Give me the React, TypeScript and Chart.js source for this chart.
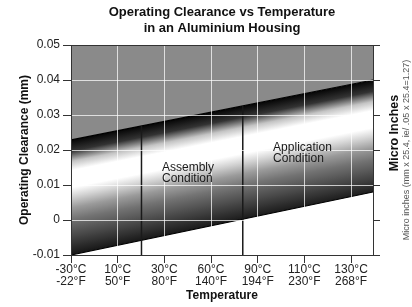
import React, { useEffect, useRef } from 'react';
import { Chart, registerables } from 'chart.js';

Chart.register(...registerables);

const FONT = "'Liberation Sans', Arial, Helvetica, sans-serif";

// ---- data ----
const titleLines = ['Operating Clearance vs Temperature', 'in an Aluminium Housing'];
const yTitle = 'Operating Clearance (mm)';
const xTitle = 'Temperature';
const rightTitle = 'Micro Inches';
const rightNote = 'Micro inches (mm x 25.4, ie/ .05 x 25.4=1.27)';

const xTickPositions = [0, 1, 2, 3, 4, 5, 6];
const tempC = ['-30°C', '10°C', '30°C', '60°C', '90°C', '110°C', '130°C'];
const tempF = ['-22°F', '50°F', '80°F', '140°F', '194°F', '230°F', '268°F'];
const xMax = 6.47;

const yTicks = [-0.01, 0, 0.01, 0.02, 0.03, 0.04, 0.05];
const yTickLabels = ['-0.01', '0', '0.01', '0.02', '0.03', '0.04', '0.05'];

const edgeX = [0, 6.47];
const upperEdge = [0.0229, 0.04];
const lowerEdge = [-0.01, 0.008];

const conditionX = [1.51, 3.68];
const conditionTop = [0.0269, 0.0326];
const conditionBottom = [-0.01, -0.01];

const conditionNames = [
  ['Assembly', 'Condition'],
  ['Application', 'Condition'],
];
const conditionLabelX = [1.95, 4.33];
const conditionLabelY = [0.0149, 0.0206];

// ---- styles ----
const bandStops = [0, 0.1, 0.19, 0.27, 0.42, 0.5, 0.6, 0.7, 0.84, 1];
const bandShades = ['#050505', '#333333', '#c4c4c4', '#ffffff', '#ffffff', '#d4d4d4', '#9a9a9a', '#737373', '#4a4a4a', '#1a1a1a'];
const GRAY_FILL = '#8a8a8a';
const GRID = 'rgba(255,255,255,0.72)';
const AXIS = '#333333';

function bandGradient(c: any) {
  const chart = c.chart;
  const { chartArea, scales } = chart;
  if (!chartArea || !scales || !scales.x || !scales.y) return '#777777';
  const xs = scales.x;
  const ys = scales.y;
  const p0x = xs.getPixelForValue(edgeX[0]);
  const p0y = ys.getPixelForValue(upperEdge[0]);
  const p1x = xs.getPixelForValue(edgeX[1]);
  const p1y = ys.getPixelForValue(upperEdge[1]);
  let dx = p1x - p0x;
  let dy = p1y - p0y;
  const len = Math.hypot(dx, dy) || 1;
  dx /= len;
  dy /= len;
  const nx = -dy;
  const ny = dx;
  const q0x = xs.getPixelForValue(edgeX[0]);
  const q0y = ys.getPixelForValue(lowerEdge[0]);
  const q1x = xs.getPixelForValue(edgeX[1]);
  const q1y = ys.getPixelForValue(lowerEdge[1]);
  const mx = (p0x + p1x) / 2;
  const my = (p0y + p1y) / 2;
  const lmx = (q0x + q1x) / 2;
  const lmy = (q0y + q1y) / 2;
  const dist = (lmx - mx) * nx + (lmy - my) * ny;
  const g = chart.ctx.createLinearGradient(mx, my, mx + nx * dist, my + ny * dist);
  bandStops.forEach((s, i) => g.addColorStop(s, bandShades[i]));
  return g;
}

const overlayText = {
  id: 'overlayText',
  afterDraw(chart: any) {
    const { ctx, scales, chartArea } = chart;
    const xs = scales.x;
    const ys = scales.y;
    ctx.save();
    ctx.font = `12px ${FONT}`;
    ctx.fillStyle = '#1a1a1a';
    ctx.textAlign = 'left';
    ctx.textBaseline = 'middle';
    conditionNames.forEach((lines, i) => {
      const px = xs.getPixelForValue(conditionLabelX[i]);
      const py = ys.getPixelForValue(conditionLabelY[i]);
      lines.forEach((l, j) => ctx.fillText(l, px, py + j * 11));
    });
    ctx.restore();

    ctx.save();
    ctx.translate(chartArea.right + 22, 133);
    ctx.rotate(-Math.PI / 2);
    ctx.font = `bold 12.5px ${FONT}`;
    ctx.fillStyle = '#111111';
    ctx.textAlign = 'center';
    ctx.textBaseline = 'middle';
    ctx.fillText(rightTitle, 0, 0);
    ctx.restore();

    ctx.save();
    ctx.translate(chartArea.right + 34, (chartArea.top + chartArea.bottom) / 2);
    ctx.rotate(-Math.PI / 2);
    ctx.font = `9px ${FONT}`;
    ctx.fillStyle = '#555555';
    ctx.textAlign = 'center';
    ctx.textBaseline = 'middle';
    ctx.fillText(rightNote, 0, 0);
    ctx.restore();
  },
};

export default function App() {
  const ref = useRef<HTMLCanvasElement | null>(null);

  useEffect(() => {
    if (!ref.current) return;
    Chart.defaults.font.family = FONT;
    Chart.defaults.color = '#222222';

    const chart = new Chart(ref.current, {
      type: 'line',
      data: {
        datasets: [
          {
            label: 'upper',
            data: edgeX.map((x, i) => ({ x, y: upperEdge[i] })),
            borderColor: '#000000',
            borderWidth: 1.2,
            fill: 'end',
            backgroundColor: GRAY_FILL,
            pointRadius: 0,
            xAxisID: 'x',
            yAxisID: 'y',
            order: 2,
          },
          {
            label: 'lower',
            data: edgeX.map((x, i) => ({ x, y: lowerEdge[i] })),
            borderColor: '#000000',
            borderWidth: 1.2,
            fill: '-1',
            backgroundColor: bandGradient,
            pointRadius: 0,
            xAxisID: 'x',
            yAxisID: 'y',
            order: 2,
          },
          ...conditionX.map((cx, i) => ({
            label: 'condition' + i,
            data: [
              { x: cx, y: conditionBottom[i] },
              { x: cx, y: conditionTop[i] },
            ],
            borderColor: '#1a1a1a',
            borderWidth: 1.5,
            fill: false,
            pointRadius: 0,
            xAxisID: 'x',
            yAxisID: 'y',
            order: 1,
          })),
        ] as any,
      },
      options: {
        animation: false,
        responsive: false,
        events: [],
        layout: { padding: 0 },
        plugins: {
          legend: { display: false },
          tooltip: { enabled: false },
          title: {
            display: true,
            text: titleLines,
            fullSize: false,
            color: '#111111',
            font: { family: FONT, size: 13, weight: 'bold', lineHeight: 1.2308 },
            padding: { top: 4, bottom: 9 },
          },
        },
        scales: {
          x: {
            type: 'linear',
            position: 'bottom',
            min: 0,
            max: xMax,
            afterBuildTicks: (s: any) => {
              s.ticks = xTickPositions.map((v) => ({ value: v }));
            },
            afterFit: (s: any) => {
              s.height = 52;
            },
            ticks: {
              callback: (_v: any, i: number) => [tempC[i], tempF[i]],
              color: '#222222',
              font: { family: FONT, size: 12, lineHeight: 1 },
              padding: 1,
              maxRotation: 0,
              autoSkip: false,
            },
            grid: { color: GRID, tickColor: AXIS, tickLength: 8, z: 1 },
            border: { color: AXIS, z: 2 },
            title: {
              display: true,
              text: xTitle,
              color: '#111111',
              font: { family: FONT, size: 12, weight: 'bold', lineHeight: 1.2 },
              padding: { top: 0, bottom: 4 },
            },
          },
          x2: {
            type: 'linear',
            position: 'top',
            min: 0,
            max: xMax,
            ticks: { display: false },
            grid: { display: false, drawTicks: false },
            border: { color: AXIS, z: 2 },
            afterFit: (s: any) => {
              s.height = 0;
            },
          },
          y: {
            type: 'linear',
            position: 'left',
            min: -0.01,
            max: 0.05,
            afterBuildTicks: (s: any) => {
              s.ticks = yTicks.map((v) => ({ value: v }));
            },
            afterFit: (s: any) => {
              s.width = 71;
            },
            ticks: {
              callback: (_v: any, i: number) => yTickLabels[i],
              color: '#222222',
              font: { family: FONT, size: 12 },
              padding: 3,
            },
            grid: { color: GRID, tickColor: AXIS, tickLength: 8, z: 1 },
            border: { color: AXIS, z: 2 },
            title: {
              display: true,
              text: yTitle,
              color: '#111111',
              font: { family: FONT, size: 12, weight: 'bold', lineHeight: 1.2 },
              padding: { top: 17, bottom: 0 },
            },
          },
          y2: {
            type: 'linear',
            position: 'right',
            min: -0.01,
            max: 0.05,
            afterBuildTicks: (s: any) => {
              s.ticks = yTicks.map((v) => ({ value: v }));
            },
            afterFit: (s: any) => {
              s.width = 39;
            },
            ticks: { callback: () => '', padding: 0 },
            grid: { drawOnChartArea: false, tickColor: AXIS, tickLength: 7, z: 1 },
            border: { color: AXIS, z: 2 },
          },
        },
      } as any,
      plugins: [overlayText],
    });

    return () => chart.destroy();
  }, []);

  return (
    <div style={{ position: 'fixed', left: 0, top: 0, width: 412, height: 307, background: '#ffffff' }}>
      <canvas ref={ref} width={412} height={307} style={{ width: 412, height: 307, display: 'block' }} />
    </div>
  );
}
